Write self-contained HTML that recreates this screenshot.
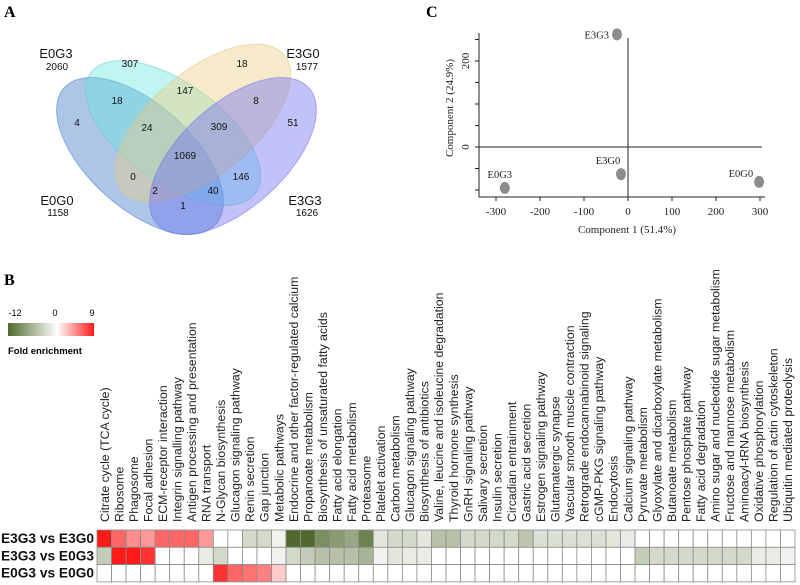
<!DOCTYPE html>
<html><head><meta charset="utf-8"><style>
html,body{margin:0;padding:0;background:#fff;}
svg{display:block;font-family:"Liberation Sans",sans-serif;}
.serif{font-family:"Liberation Serif",serif;}
</style></head><body>
<svg id="fig" width="800" height="585" viewBox="0 0 800 585" xmlns="http://www.w3.org/2000/svg">
<text x="4" y="17" class="serif" font-size="16" font-weight="bold">A</text>
<text x="4" y="285" class="serif" font-size="16" font-weight="bold">B</text>
<text x="426" y="17" class="serif" font-size="16" font-weight="bold">C</text>
<g id="venn">
<ellipse cx="140" cy="156" rx="102" ry="52" transform="rotate(42 140 156)" fill="rgb(60,120,200)" fill-opacity="0.42" stroke="rgb(60,120,200)" stroke-opacity="0.5"/>
<ellipse cx="173" cy="133" rx="102" ry="50" transform="rotate(36 173 133)" fill="rgb(100,230,220)" fill-opacity="0.4" stroke="rgb(100,200,200)" stroke-opacity="0.5"/>
<ellipse cx="203" cy="123" rx="106" ry="52" transform="rotate(-40 203 123)" fill="rgb(235,205,130)" fill-opacity="0.42" stroke="rgb(220,200,130)" stroke-opacity="0.5"/>
<ellipse cx="233" cy="156" rx="102" ry="52" transform="rotate(-42 233 156)" fill="rgb(110,110,240)" fill-opacity="0.42" stroke="rgb(110,110,240)" stroke-opacity="0.5"/>
<g font-size="10" fill="#111" text-anchor="middle">
<text x="130" y="67">307</text>
<text x="242" y="67">18</text>
<text x="117" y="104">18</text>
<text x="185" y="94">147</text>
<text x="256" y="104">8</text>
<text x="77" y="126">4</text>
<text x="147" y="131">24</text>
<text x="219" y="130">309</text>
<text x="293" y="126">51</text>
<text x="185" y="159">1069</text>
<text x="133" y="180">0</text>
<text x="241" y="180">146</text>
<text x="155" y="194">2</text>
<text x="213" y="194">40</text>
<text x="183" y="209">1</text>
</g>
<g text-anchor="middle" fill="#111">
<text x="56" y="58" font-size="13">E0G3</text>
<text x="57" y="70" font-size="10">2060</text>
<text x="303" y="58" font-size="13">E3G0</text>
<text x="307" y="70" font-size="10">1577</text>
<text x="57" y="205" font-size="13">E0G0</text>
<text x="58" y="216" font-size="10">1158</text>
<text x="305" y="205" font-size="13">E3G3</text>
<text x="307" y="216" font-size="10">1626</text>
</g>
</g>
<g id="pca" class="serif"></g>
<g id="legend">
<defs><linearGradient id="lg" x1="0" x2="1"><stop offset="0" stop-color="#4f6a2c"/><stop offset="0.57" stop-color="#ffffff"/><stop offset="1" stop-color="#ff1a1a"/></linearGradient></defs>
<rect x="8" y="323" width="86" height="13" fill="url(#lg)"/>
<text x="15" y="316" font-size="9" text-anchor="middle">-12</text>
<text x="55" y="316" font-size="9" text-anchor="middle">0</text>
<text x="92" y="316" font-size="9" text-anchor="middle">9</text>
<text x="8" y="354" font-size="9.5" font-weight="bold">Fold enrichment</text>
</g>
<g id="heat"></g>
</svg>
<script>
const NS="http://www.w3.org/2000/svg";
function mk(parent,tag,attrs,txt){const e=document.createElementNS(NS,tag);for(const k in attrs)e.setAttribute(k,attrs[k]);if(txt!==undefined)e.textContent=txt;parent.appendChild(e);return e;}

// ---- PCA data ----
const pcaLabels=["E3G3","E3G0","E0G3","E0G0"];
const pcaX=[-25,-16,-280,298];
const pcaY=[262,-63,-95,-81];
const pcaXTicks=[-300,-200,-100,0,100,200,300];
const pcaYTicks=[0,200];
const pcaYMinor=[-100,-50,0,50,100,150,200,250];

const sx=v=>628+v*0.44;
const sy=v=>147-v*0.43;
const pca=document.getElementById('pca');
let e;
e=mk(pca,'line',{x1:479,y1:33,x2:479,y2:197,stroke:'#222','stroke-width':1});


e=mk(pca,'line',{x1:479,y1:197,x2:765,y2:197,stroke:'#222','stroke-width':1});


e=mk(pca,'line',{x1:sx(0),y1:38,x2:sx(0),y2:197,stroke:'#222','stroke-width':1});


e=mk(pca,'line',{x1:479,y1:sy(0),x2:762,y2:sy(0),stroke:'#222','stroke-width':1});


pcaXTicks.forEach(t=>{
  e=mk(pca,'line',{x1:sx(t),y1:197,x2:sx(t),y2:201,stroke:'#222'});
  
  
  e=mk(pca,'text',{x:sx(t),y:215,'font-size':11,'text-anchor':'middle',fill:'#222'},String(t));
  
  
});
pcaYMinor.forEach(t=>{
  e=mk(pca,'line',{x1:475,y1:sy(t),x2:479,y2:sy(t),stroke:'#222'});
  
  
});
pcaYTicks.forEach(t=>{
  e=mk(pca,'text',{x:0,y:0,'font-size':11,'text-anchor':'middle',fill:'#222',transform:`translate(469,${sy(t)}) rotate(-90)`},String(t));
  
  
});
e=mk(pca,'text',{x:627,y:233,'font-size':11,'text-anchor':'middle',fill:'#222'},'Component 1 (51.4%)');


e=mk(pca,'text',{x:0,y:0,'font-size':11,'text-anchor':'middle',fill:'#222',transform:'translate(453,108) rotate(-90)'},'Component 2 (24.9%)');


pcaLabels.forEach((l,i)=>{
  const cx=sx(pcaX[i]),cy=sy(pcaY[i]);
  e=mk(pca,'ellipse',{cx:cx,cy:cy,rx:5,ry:6,fill:'#8c8c8c'});
  
  
  let tx=cx-8,ty=cy+4,anchor='end';
  if(l==='E3G0'||l==='E0G3'){tx=cx-5;ty=cy-10;anchor='middle';if(l==='E3G0')tx=cx-13;}
  if(l==='E0G0'){tx=cx-6;ty=cy-5;}
  e=mk(pca,'text',{x:tx,y:ty,'font-size':10.5,'text-anchor':anchor,fill:'#222'},l);
  
  
});

// ---- Heatmap data ----
const pathways=["Citrate cycle (TCA cycle)","Ribosome","Phagosome","Focal adhesion","ECM-receptor interaction","Integrin signalling pathway","Antigen processing and presentation","RNA transport","N-Glycan biosynthesis","Glucagon signaling pathway","Renin secretion","Gap junction","Metabolic pathways","Endocrine and other factor-regulated calcium","Propanoate metabolism","Biosynthesis of unsaturated fatty acids","Fatty acid elongation","Fatty acid metabolism","Proteasome","Platelet activation","Carbon metabolism","Glucagon signaling pathway","Biosynthesis of antibiotics","Valine, leucine and isoleucine degradation","Thyroid hormone synthesis","GnRH signaling pathway","Salivary secretion","Insulin secretion","Circadian entrainment","Gastric acid secretion","Estrogen signaling pathway","Glutamatergic synapse","Vascular smooth muscle contraction","Retrograde endocannabinoid signaling","cGMP-PKG signaling pathway","Endocytosis","Calcium signaling pathway","Pyruvate metabolism","Glyoxylate and dicarboxylate metabolism","Butanoate metabolism","Pentose phosphate pathway","Fatty acid degradation","Amino sugar and nucleotide sugar metabolism","Fructose and mannose metabolism","Aminoacyl-tRNA biosynthesis","Oxidative phosphorylation","Regulation of actin cytoskeleton","Ubiquitin mediated proteolysis"];
const comparisons=["E3G3 vs E3G0","E3G3 vs E0G3","E0G3 vs E0G0"];
const rowE3G3vsE3G0=[9,6,4.5,4,6,6,6,4,0,0,-3,-3,-1,-12,-12,-9,-8,-7,-10,-2,-3,-3,-2,-5,-5,-3,-3,-3,-3,-4.5,-2.5,-2.5,-2.5,-2.5,-2.5,-2,-1.5,0,0,0,0,0,0,0,0,0,0,0];
const rowE3G3vsE0G3=[-4,9,9,8,0,0,0,-1.5,-3,0,0,0,-1,-3,-4,-5,-5,-5,-6,-1,-2,-1.5,-1.5,0,0,0,0,0,0,0,0,0,0,0,0,0,0,-4,-3,-3,-3,-3,-3,-3,-3,-1.5,-1.5,-1];
const rowE0G3vsE0G0=[0,0,0,0,0,0,0,0,8,6,5.5,5,2,0,0,0,0,0,0,0,0,0,0,0,0,0,0,0,0,0,0,0,0,0,0,0,0,0,0,0,0,0,0,0,0,0,0,0];
const heatRows=[rowE3G3vsE3G0,rowE3G3vsE0G3,rowE0G3vsE0G0];

function color(v){
  if(v>=0){const t=Math.min(v/9,1);return `rgb(255,${Math.round(255-t*229)},${Math.round(255-t*229)})`;}
  const t=Math.min(-v/12,1);return `rgb(${Math.round(255-t*176)},${Math.round(255-t*149)},${Math.round(255-t*211)})`;
}
const heat=document.getElementById('heat');
const x0=97,cw=(795-97)/pathways.length,y0=530,rh=17.3;
pathways.forEach((p,j)=>{
  const cx=x0+j*cw+cw/2+4.5;
  e=mk(heat,'text',{x:0,y:0,'font-size':12.3,fill:'#222',transform:`translate(${cx},522) rotate(-90)`},p);
  
  
});
heatRows.forEach((row,i)=>{
  e=mk(heat,'text',{x:1,y:y0+i*rh+13,'font-size':13.5,'font-weight':'bold',fill:'#111',textLength:93,lengthAdjust:'spacingAndGlyphs'},comparisons[i]);
  
  
  row.forEach((v,j)=>{
    e=mk(heat,'rect',{x:x0+j*cw,y:y0+i*rh,width:cw,height:rh,fill:color(v),stroke:'#8a8a8a','stroke-width':0.8});
    
    
  });
});
</script>
</body></html>
